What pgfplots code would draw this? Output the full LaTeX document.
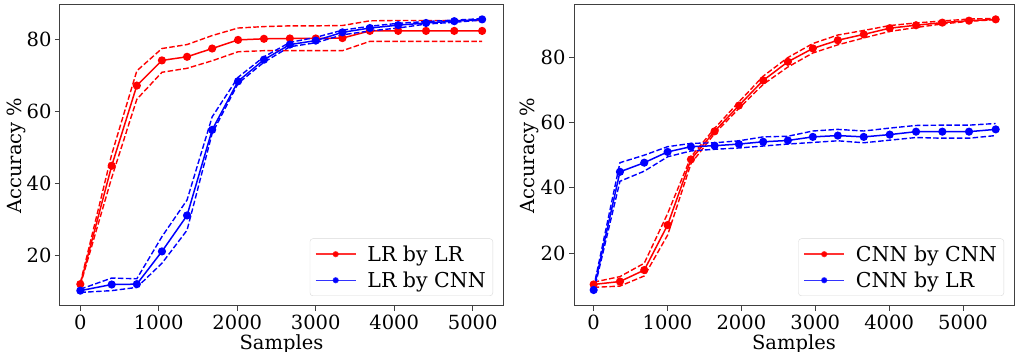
\documentclass[border=0pt]{standalone}
\usepackage{fontspec}
\setmainfont{DejaVu Serif}
\usepackage{pgfplots}
\usepackage{pgfplotstable}
\pgfplotsset{compat=1.18}
\pgfplotstableread{
x rm ru rl bm bu bl
0 11.9 12.2 11.6 10.1 10.5 9.6
400 44.8 48.0 41.5 11.8 13.6 10.1
720 67.1 71.2 63.3 11.9 13.4 11.0
1040 74.1 77.4 70.8 21.0 25.1 17.7
1360 75.1 78.5 71.9 31.0 35.3 26.9
1680 77.4 81.0 74.0 54.8 58.4 53.8
2010 79.8 83.1 76.5 68.3 69.4 67.7
2340 80.1 83.5 76.8 74.3 75.1 73.6
2670 80.2 83.7 76.8 78.5 79.1 77.9
3000 80.2 83.7 76.8 79.6 80.5 79.0
3340 80.3 83.8 76.8 81.9 82.5 81.2
3690 82.3 85.1 79.4 83.1 83.6 82.3
4050 82.3 85.2 79.4 83.9 84.4 83.1
4405 82.3 85.2 79.4 84.5 84.9 84.2
4765 82.3 85.2 79.4 85.0 85.3 84.7
5120 82.3 85.2 79.4 85.5 85.7 85.3
}\lrdata
\pgfplotstableread{
x rm ru rl bm bu bl
0 10.4 11.1 9.5 8.7 9.5 8.1
356 11.3 12.8 9.9 44.9 47.7 42.0
685 14.8 16.9 13.0 47.7 50.0 45.1
1001 28.6 32.1 25.5 51.0 52.6 49.5
1317 48.7 49.5 47.4 52.6 53.6 51.3
1637 57.3 58.2 56.6 52.9 53.8 51.8
1966 65.2 66.3 64.3 53.4 54.4 52.2
2295 72.9 74.2 71.7 54.1 55.6 52.8
2629 78.6 79.9 77.0 54.5 55.8 53.4
2967 82.7 84.2 81.3 55.6 57.4 53.9
3305 85.2 86.8 83.8 56.0 57.9 54.4
3656 87.0 88.2 85.9 55.6 57.4 53.8
4008 88.9 89.7 87.9 56.3 58.3 54.6
4364 89.8 90.5 89.1 57.2 59.1 55.4
4720 90.6 91.1 90.2 57.2 59.2 55.2
5081 91.2 91.7 91.0 57.2 59.2 55.2
5442 91.6 91.9 91.5 57.9 59.7 56.0
}\cnndata
\begin{document}
\begin{tikzpicture}
\pgfplotsset{
  myax/.style={
    scale only axis, height=301pt, anchor=south west,
    axis line style={black!75, line width=1pt},
    tick align=outside, major tick length=5pt,
    xtick pos=left, ytick pos=left,
    tick style={black!75, line width=0.8pt},
    xtick={0,1000,2000,3000,4000,5000},
    ytick={20,40,60,80},
    /pgf/number format/assume math mode=true,
    /pgf/number format/set thousands separator={},
    tick label style={font=\fontsize{19.5}{23}\selectfont},
    label style={font=\fontsize{19.5}{23}\selectfont},
    xlabel={Samples}, ylabel={Accuracy \%},
    xlabel style={at={(axis description cs:0.5,-0.143)}, anchor=base},
    legend cell align=left,
    legend style={at={(axis description cs:1,0)}, xshift=-10pt, yshift=10pt,
      anchor=south east, draw=black!15, rounded corners=3pt,
      font=\fontsize{20.5}{24}\selectfont, row sep=5pt, inner xsep=5pt, inner ysep=5pt,
      /tikz/every odd column/.append style={column sep=9pt}},
    legend image code/.code={\draw[mark repeat=2,mark phase=2,##1,line width=1.5pt,draw opacity=0.8,mark size=2.3pt] plot coordinates {(0pt,0pt)(20pt,0pt)(40pt,0pt)};},
  },
  mainl/.style={line width=1.5pt, mark=*, mark size=3.3pt, mark options={solid}},
  dashl/.style={line width=1.4pt, dash pattern=on 5.5pt off 2.4pt, forget plot},
}
\begin{axis}[myax, at={(0pt,0pt)}, width=443pt,
  xmin=-259, xmax=5386, ymin=5.83, ymax=89.5,
  ylabel style={at={(axis description cs:-0.098,0.5)}, anchor=center, rotate=0}]
\addplot[red, mainl] table[x=x,y=rm] {\lrdata};
\addlegendentry{LR by LR}
\addplot[red, dashl] table[x=x,y=ru] {\lrdata};
\addplot[red, dashl] table[x=x,y=rl] {\lrdata};
\addplot[blue, mainl] table[x=x,y=bm] {\lrdata};
\addlegendentry{LR by CNN}
\addplot[blue, dashl] table[x=x,y=bu] {\lrdata};
\addplot[blue, dashl] table[x=x,y=bl] {\lrdata};
\end{axis}
\begin{axis}[myax, at={(514pt,0pt)}, width=440pt,
  xmin=-266, xmax=5690, ymin=3.8, ymax=96.0,
  ylabel style={at={(axis description cs:-0.102,0.5)}, anchor=center, rotate=0}]
\addplot[red, mainl] table[x=x,y=rm] {\cnndata};
\addlegendentry{CNN by CNN}
\addplot[red, dashl] table[x=x,y=ru] {\cnndata};
\addplot[red, dashl] table[x=x,y=rl] {\cnndata};
\addplot[blue, mainl] table[x=x,y=bm] {\cnndata};
\addlegendentry{CNN by LR}
\addplot[blue, dashl] table[x=x,y=bu] {\cnndata};
\addplot[blue, dashl] table[x=x,y=bl] {\cnndata};
\end{axis}
\pgfresetboundingbox
\useasboundingbox (-60pt,-46pt) rectangle (955pt,306pt);
\end{tikzpicture}
\end{document}
